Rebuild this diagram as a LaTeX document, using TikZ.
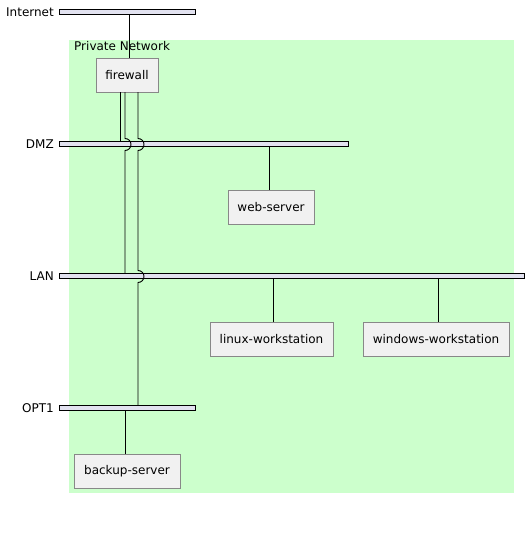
\documentclass[tikz,border=0pt]{standalone}
\usepackage{fontspec}
\setmainfont{DejaVu Sans}
\definecolor{netgreen}{HTML}{CCFFCC}
\definecolor{barfill}{HTML}{E2E2F0}
\definecolor{boxfill}{HTML}{F1F1F1}
\definecolor{boxline}{HTML}{888888}
\tikzset{
  netbar/.style={draw=black, fill=barfill, minimum height=5pt, inner sep=0pt, anchor=west},
  hostbox/.style={draw=boxline, fill=boxfill, minimum height=34pt, inner sep=0pt},
  netlabel/.style={anchor=east, inner sep=0pt},
  wire/.style={draw=black, line width=0.9pt}
}
\begin{document}
\begin{tikzpicture}[x=1pt, y=-1pt, font=\fontsize{12}{14}\selectfont]
            \useasboundingbox (0,0) rectangle (531,544);
            \fill[netgreen] (69,40) rectangle (514,493);
            \node[anchor=north west, inner sep=0pt] (pnet) at (74,41) {Private Network};
            % networks
            \node[netbar, minimum width=136pt] (internet) at (59,11.5) {};
            \node[netbar, minimum width=289pt] (dmz) at (59,143.5) {};
            \node[netbar, minimum width=465pt] (lan) at (59,275.5) {};
            \node[netbar, minimum width=136pt] (opt) at (59,407.5) {};
            \node[netlabel] (linternet) at (54,12) {Internet};
            \node[netlabel] (ldmz) at (54,144) {DMZ};
            \node[netlabel] (llan) at (54,276) {LAN};
            \node[netlabel] (lopt) at (54,408) {OPT1};
            % hosts
            \node[hostbox, minimum width=62pt] (fw) at (127,75) {firewall};
            \node[hostbox, minimum width=86pt] (web) at (271,207) {web-server};
            \node[hostbox, minimum width=123pt] (linux) at (271.5,339) {linux-workstation};
            \node[hostbox, minimum width=146pt] (win) at (436,339) {windows-workstation};
            \node[hostbox, minimum width=106pt] (backup) at (127,471) {backup-server};
            % links
            \coordinate (fwin) at ([xshift=2pt]fw.north);
            \coordinate (fwa) at ([xshift=-7pt]fw.south);
            \coordinate (fwb) at ([xshift=-2pt]fw.south);
            \coordinate (fwc) at ([xshift=11pt]fw.south);
            \draw[wire] (fwin) -- (fwin |- internet.south);
            \draw[wire] (fwa) -- (fwa |- dmz.north);
            \draw[wire] (fwb) -- ([yshift=5pt]fwb |- dmz)
              arc[start angle=90, end angle=-90, radius=6pt] -- (fwb |- lan.north);
            \draw[wire] (fwc) -- ([yshift=5pt]fwc |- dmz)
              arc[start angle=90, end angle=-90, radius=6pt] -- ([yshift=5pt]fwc |- lan)
              arc[start angle=90, end angle=-90, radius=6pt] -- (fwc |- opt.north);
            \draw[wire] (dmz.south -| 269,0) -- (269,0 |- web.north);
            \draw[wire] (lan.south -| 273,0) -- (273,0 |- linux.north);
            \draw[wire] (lan.south -| 438,0) -- (438,0 |- win.north);
            \draw[wire] (opt.south -| 125,0) -- (125,0 |- backup.north);
        \end{tikzpicture}
\end{document}
